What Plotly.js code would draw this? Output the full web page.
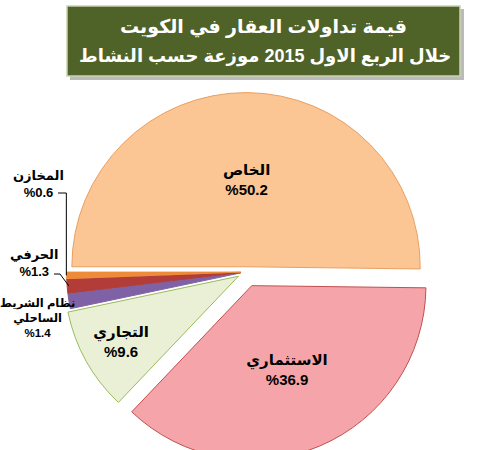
<!DOCTYPE html>
<html><head><meta charset="utf-8">
<script src="https://cdn.plot.ly/plotly-3.0.1.min.js"></script>
<style>html,body{margin:0;padding:0;width:483px;height:450px;overflow:hidden;background:#fff}</style>
</head><body><div id="chart" style="width:483px;height:500px"></div>
<script>
const categories = ['الخاص','الاستثماري','التجاري','نظام الشريط الساحلي','الحرفي','المخازن'];
const values = [50.2, 36.9, 9.6, 1.4, 1.3, 0.6];
const titleLines = ['قيمة تداولات العقار في الكويت','خلال الربع الاول 2015 موزعة حسب النشاط'];
const fills = ['#FBC594','#F5A5AA','#E9F0D6','#7F62A5','#B13C38','#EE8B3A'];
const edges = ['#E9A062','#C0504D','#9BBB59','#7F62A5','#B13C38','#EE8B3A'];
const pulls = [0.03, 0.085, 0.05, 0.03, 0.03, 0.03];

const W = 483, H = 500;
const px = x => x / W, py = y => 1 - y / H;
const pctText = values.map(v => '%' + v.toFixed(1));
const showInside = values.map(v => v > 5);

const trace = {
  type: 'pie', labels: categories, values: values, sort: false,
  direction: 'clockwise', rotation: 270, pull: pulls,
  text: pctText, texttemplate: showInside.map(s => s ? '%{label}<br>%{text}' : ''),
  textposition: 'inside', insidetextorientation: 'horizontal',
  textfont: {family: 'Liberation Sans, DejaVu Sans, sans-serif', size: 15, color: '#000', weight: 'bold'},
  marker: {colors: fills, line: {color: edges, width: 1}},
  domain: {x: [57/W, 435/W], y: [1 - 461/H, 1 - 83/H]},
  showlegend: false, hoverinfo: 'none'
};

// geometry for leader lines (derived from values)
const cx = 246, cy = 272, R = 378 / (2 + 2 * Math.max(...pulls));
const total = values.reduce((a, b) => a + b, 0);
let cum = 0; const mids = [];
values.forEach(v => { mids.push(270 + 360 * (cum + v / 2) / total); cum += v; });
function pt(i, f) {
  const a = mids[i] * Math.PI / 180, rr = R * (f + pulls[i]);
  return [cx + rr * Math.sin(a), cy - rr * Math.cos(a)];
}
const iM = 5, iH = 4, iS = 3;
const pM = pt(iM, 0.99), pH = pt(iH, 0.99);
const lab = s => ({family: 'Liberation Sans, DejaVu Sans, sans-serif', size: s, color: '#000', weight: 'bold'});
const ttl = s => ({family: 'Liberation Sans, DejaVu Sans, sans-serif', size: s, color: '#fff', weight: 'bold'});
const ann = (x, y, text, font) => ({x: px(x), y: py(y), xref: 'paper', yref: 'paper', xanchor: 'center', yanchor: 'middle',
  text: text, showarrow: false, font: font, align: 'center'});

const annotations = [
  ann(38, 184, categories[iM] + '<br>' + pctText[iM], lab(13)),
  ann(34, 263, categories[iH] + '<br>' + pctText[iH], lab(13)),
  ann(37, 318, 'نظام الشريط<br>الساحلي<br>' + pctText[iS], lab(11.5)),
  ann(263, 27, titleLines[0], ttl(19)),
  ann(265, 57, titleLines[1], ttl(18))
];

const shapes = [
  {type: 'rect', xref: 'paper', yref: 'paper', x0: px(70), x1: px(464), y0: py(80), y1: py(9), fillcolor: '#BBBBBB', line: {width: 0}, layer: 'below'},
  {type: 'rect', xref: 'paper', yref: 'paper', x0: px(67), x1: px(460), y0: py(76), y1: py(6), fillcolor: '#4F6228', line: {color: '#C8D2B0', width: 1.5}, layer: 'below'},
  {type: 'path', xref: 'paper', yref: 'paper', path: `M ${px(58)} ${py(193)} L ${px(pM[0]-2)} ${py(193)} L ${px(pM[0]-2)} ${py(pM[1])}`, line: {color: '#000', width: 1}},
  {type: 'path', xref: 'paper', yref: 'paper', path: `M ${px(54)} ${py(274)} L ${px(60)} ${py(274)} L ${px(pH[0])} ${py(pH[1])}`, line: {color: '#000', width: 1}}
];

Plotly.newPlot('chart', [trace], {
  width: W, height: H, margin: {l: 0, r: 0, t: 0, b: 0},
  paper_bgcolor: '#fff', annotations: annotations, shapes: shapes
}, {displayModeBar: false, staticPlot: true});
</script></body></html>
